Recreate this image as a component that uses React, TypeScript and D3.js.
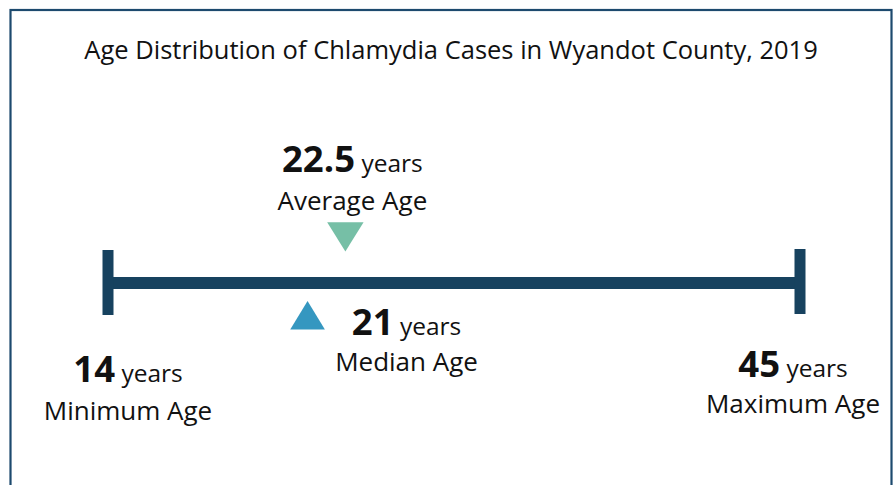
import React from "react";
import * as d3 from "d3";

const title = "Age Distribution of Chlamydia Cases in Wyandot County, 2019";
const statKeys = ["min", "avg", "median", "max"];
const statValues = [14, 22.5, 21, 45];
const statLabels = ["Minimum Age", "Average Age", "Median Age", "Maximum Age"];
const unit = "years";

const W = 894;
const H = 485;
const FONT = "'Open Sans', 'Noto Sans', sans-serif";
const LINE = "#17425f";
const BORDER = "#1d4a6e";
const AVG_COLOR = "#76bfa6";
const MED_COLOR = "#3597c0";

export default function App() {
  const minV = statValues[0];
  const maxV = statValues[3];
  const x = d3.scalePow().exponent(0.46).domain([minV, maxV]).range([108, 800]);
  const lineY = 283;

  const triUp = d3.symbol().type(d3.symbolTriangle).size(520)();

  // label layout (offsets from marker position)
  const labelCfg: Record<string, { dx: number; y1: number; y2: number }> = {
    min: { dx: 20, y1: 382, y2: 420 },
    avg: { dx: 7, y1: 172, y2: 210 },
    median: { dx: 99, y1: 335, y2: 371 },
    max: { dx: -7, y1: 377, y2: 413 },
  };

  return (
    <div style={{ position: "fixed", left: 0, top: 0 }}>
      <svg width={W} height={H} style={{ display: "block", background: "#fff" }} fontFamily={FONT}>
        <rect x={10.5} y={10} width={881} height={H + 20} fill="#fff" stroke={BORDER} strokeWidth={2.2} />
        <text x={451} y={59} textAnchor="middle" fontSize={25.5} fill="#111">
          {title}
        </text>
        {/* main line */}
        <line x1={x(minV)} x2={x(maxV)} y1={lineY} y2={lineY} stroke={LINE} strokeWidth={12} />
        <rect x={x(minV) - 5.5} y={250} width={11} height={65} fill={LINE} />
        <rect x={x(maxV) - 5.5} y={249} width={11} height={65} fill={LINE} />
        {/* average marker (down triangle) */}
        <path
          d={triUp as string}
          transform={`translate(${x(statValues[1])},${232}) rotate(180) scale(1.05,0.98)`}
          fill={AVG_COLOR}
        />
        {/* median marker (up triangle) */}
        <path
          d={triUp as string}
          transform={`translate(${x(statValues[2])},${320}) scale(1.0,0.95)`}
          fill={MED_COLOR}
        />
        {statKeys.map((k, i) => {
          const c = labelCfg[k];
          const cx = x(statValues[i]) + c.dx;
          return (
            <g key={k}>
              <text x={cx} y={c.y1} textAnchor="middle" fill="#111">
                <tspan fontWeight="bold" fontSize={36.5}>
                  {String(statValues[i])}
                </tspan>
                <tspan fontSize={24.5}>{" " + unit}</tspan>
              </text>
              <text x={cx} y={c.y2} textAnchor="middle" fontSize={26} fill="#111">
                {statLabels[i]}
              </text>
            </g>
          );
        })}
      </svg>
    </div>
  );
}
